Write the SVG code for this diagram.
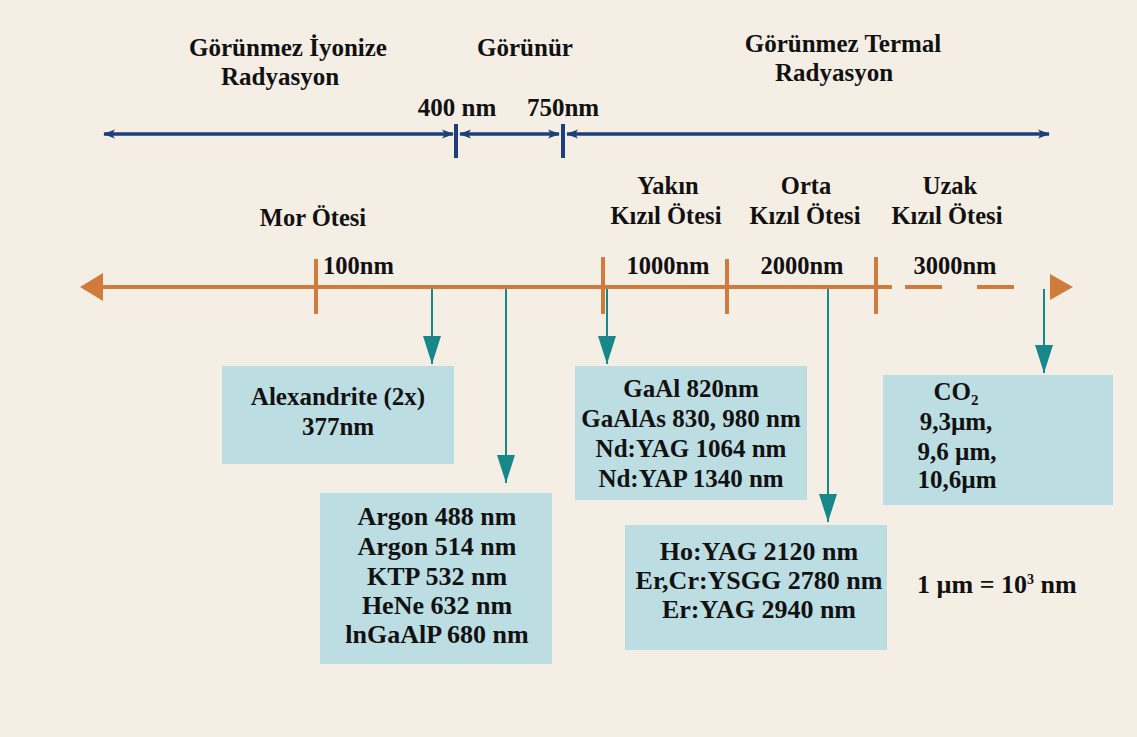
<svg xmlns="http://www.w3.org/2000/svg" width="1137" height="737" viewBox="0 0 1137 737" font-family="'Liberation Serif', 'Times New Roman', Times, serif">
<defs>
<style>
text{font-family:'Liberation Serif','Times New Roman',Times,serif}
.t{font-weight:bold;font-size:24.5px;fill:#111;text-anchor:middle}
.h{font-size:25px}
.b25{font-size:25px}
.b26{font-size:26px}
.box{fill:#bcdde2}
.blue{stroke:#1d3e7a;stroke-width:3.5;fill:none}
.btick{stroke:#1d3e7a;stroke-width:4}
.or{stroke:#cf7b3c;stroke-width:4;fill:none}
.otick{stroke:#cf7b3c;stroke-width:4}
.teal{stroke:#17878a;stroke-width:2;fill:none}
</style>
<marker id="bh" viewBox="0 0 12 10" refX="11" refY="5" markerWidth="12" markerHeight="10" markerUnits="userSpaceOnUse" orient="auto-start-reverse">
<path d="M0,0.5 L12,5 L0,9.5 L3,5 Z" fill="#1d3e7a"/>
</marker>
<marker id="th" viewBox="0 0 28 18" refX="28" refY="9" markerWidth="28" markerHeight="18" markerUnits="userSpaceOnUse" orient="auto">
<path d="M0,0 L28,9 L0,18 Z" fill="#17878a"/>
</marker>
</defs>
<rect width="1137" height="737" fill="#f5eee5"/>

<g id="top-scale">
<line class="blue" x1="104" y1="134" x2="453" y2="134" marker-start="url(#bh)" marker-end="url(#bh)"/>
<line class="blue" x1="460" y1="134" x2="559" y2="134" marker-start="url(#bh)" marker-end="url(#bh)"/>
<line class="blue" x1="567" y1="134" x2="1049" y2="134" marker-start="url(#bh)" marker-end="url(#bh)"/>
<line class="btick" x1="456" y1="124" x2="456" y2="158"/>
<line class="btick" x1="563" y1="124" x2="563" y2="158"/>
</g>

<g id="top-labels">
<text class="t h" x="288" y="56">Görünmez İyonize</text>
<text class="t h" x="280" y="85">Radyasyon</text>
<text class="t h" x="525" y="56">Görünür</text>
<text class="t h" x="843" y="52">Görünmez Termal</text>
<text class="t h" x="834" y="81">Radyasyon</text>
<text class="t h" x="457" y="116">400 nm</text>
<text class="t h" x="563" y="116">750nm</text>
</g>

<g id="axis">
<line class="or" x1="100" y1="287" x2="892" y2="287"/>
<polygon points="80,287 103,273 103,301" fill="#cf7b3c"/>
<line class="or" x1="905" y1="287" x2="942" y2="287"/>
<line class="or" x1="977" y1="287" x2="1014" y2="287"/>
<polygon points="1073,287 1050,274 1050,300" fill="#cf7b3c"/>
<line class="otick" x1="316" y1="259" x2="316" y2="314"/>
<line class="otick" x1="603" y1="257" x2="603" y2="314"/>
<line class="otick" x1="727" y1="259" x2="727" y2="314"/>
<line class="otick" x1="876" y1="257" x2="876" y2="314"/>
</g>

<g id="band-labels">
<text class="t" x="313" y="226">Mor Ötesi</text>
<text class="t" x="668" y="194">Yakın</text>
<text class="t" x="666" y="224">Kızıl Ötesi</text>
<text class="t" x="806" y="194">Orta</text>
<text class="t" x="805" y="224">Kızıl Ötesi</text>
<text class="t" x="950" y="194">Uzak</text>
<text class="t" x="947" y="224">Kızıl Ötesi</text>
<text class="t" x="323" y="274" style="text-anchor:start">100nm</text>
<text class="t" x="668" y="274">1000nm</text>
<text class="t" x="802" y="274">2000nm</text>
<text class="t" x="955" y="274">3000nm</text>
</g>

<g id="connectors">
<line class="teal" x1="432" y1="289" x2="432" y2="364" marker-end="url(#th)"/>
<line class="teal" x1="506" y1="289" x2="506" y2="483" marker-end="url(#th)"/>
<line class="teal" x1="607" y1="289" x2="607" y2="364" marker-end="url(#th)"/>
<line class="teal" x1="828" y1="289" x2="828" y2="522" marker-end="url(#th)"/>
<line class="teal" x1="1044" y1="289" x2="1044" y2="373" marker-end="url(#th)"/>
</g>

<g id="node-alexandrite">
<rect class="box" x="222" y="366" width="232" height="98"/>
<text class="t b25" x="338" y="405">Alexandrite (2x)</text>
<text class="t b25" x="338" y="435">377nm</text>
</g>

<g id="node-visible">
<rect class="box" x="320" y="493" width="232" height="171"/>
<text class="t b26" x="437" y="525">Argon 488 nm</text>
<text class="t b26" x="437" y="555">Argon 514 nm</text>
<text class="t b26" x="437" y="585">KTP 532 nm</text>
<text class="t b26" x="437" y="614">HeNe 632 nm</text>
<text class="t b26" x="437" y="643">lnGaAlP 680 nm</text>
</g>

<g id="node-near-ir">
<rect class="box" x="575" y="366" width="232" height="134"/>
<text class="t b25" x="691" y="397">GaAl 820nm</text>
<text class="t b25" x="691" y="427">GaAlAs 830, 980 nm</text>
<text class="t b25" x="691" y="457">Nd:YAG 1064 nm</text>
<text class="t b25" x="691" y="487">Nd:YAP 1340 nm</text>
</g>

<g id="node-mid-ir">
<rect class="box" x="625" y="525" width="262" height="125"/>
<text class="t b26" x="759" y="560">Ho:YAG 2120 nm</text>
<text class="t b26" x="759" y="589">Er,Cr:YSGG 2780 nm</text>
<text class="t b26" x="759" y="618">Er:YAG 2940 nm</text>
</g>

<g id="node-far-ir">
<rect class="box" x="883" y="375" width="230" height="130"/>
<text class="t b25" x="956" y="400">CO<tspan font-size="15" dy="5">2</tspan></text>
<text class="t b25" x="956" y="430">9,3µm,</text>
<text class="t b25" x="957" y="460">9,6 µm,</text>
<text class="t b25" x="957" y="488">10,6µm</text>
</g>

<g id="note">
<text class="t b26" x="917" y="593" style="text-anchor:start">1 µm = 10<tspan font-size="14" dy="-9">3</tspan><tspan dy="9"> nm</tspan></text>
</g>
</svg>
